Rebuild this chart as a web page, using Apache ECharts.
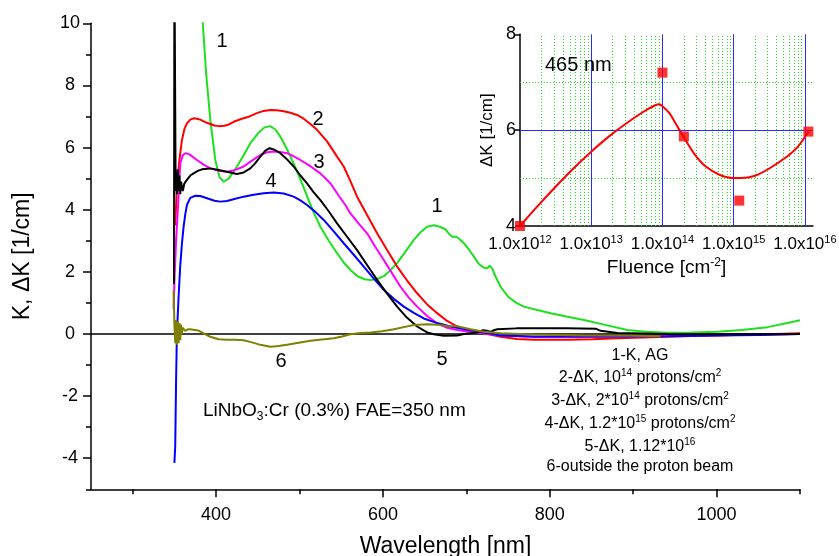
<!DOCTYPE html>
<html>
<head>
<meta charset="utf-8">
<script src="https://cdn.jsdelivr.net/npm/echarts@6/dist/echarts.min.js"></script>
<style>
html,body{margin:0;padding:0;background:#fff;}
#wrap{position:relative;width:839px;height:556px;}
#main,#inset{position:absolute;left:0;top:0;width:839px;height:556px;}
#inset{pointer-events:none;}
</style>
</head>
<body>
<div id="wrap"><div id="main"></div><div id="inset"></div></div>
<script>
// ---------------- DATA ----------------
const majorXTicks = [400, 600, 800, 1000];
const minorXTicks = [300, 500, 700, 900, 1100];
const majorYTicks = [-4, -2, 0, 2, 4, 6, 8, 10];
const minorYTicks = [-5, -3, -1, 1, 3, 5, 7, 9];

// Curve 1: K, as grown (green)
const curve1 = [[380,11.5],[384,10.0],[388,8.4],[393,6.9],[399,5.6],[404,5.05],[409,4.9],[415,5.0],[425,5.39],[433,5.75],[441,6.14],[450,6.45],[458,6.65],[465,6.69],[471,6.58],[477,6.35],[483,6.05],[489,5.72],[496,5.3],[503,4.85],[511,4.3],[518,3.85],[525,3.45],[535,3.0],[545,2.6],[553,2.3],[561,2.06],[570,1.85],[578,1.76],[585,1.74],[593,1.77],[601,1.86],[609,2.05],[617,2.28],[627,2.65],[637,3.03],[646,3.3],[653,3.45],[661,3.5],[668,3.45],[675,3.37],[680,3.2],[683,3.13],[688,3.13],[692,3.05],[697,2.92],[703,2.72],[709,2.49],[715,2.25],[720,2.15],[725,2.11],[728,2.2],[731,2.1],[735,1.85],[741,1.52],[750,1.2],[760,1.0],[769,0.88],[785,0.77],[801,0.67],[820,0.56],[841,0.45],[865,0.3],[893,0.13],[915,0.07],[941,0.04],[970,0.05],[1001,0.07],[1030,0.13],[1061,0.22],[1085,0.35],[1100,0.44]];
// Curve 2: dK, 1e14 (red)
const curve2 = [[351,3.5],[353,4.74],[356,5.6],[359,6.24],[362,6.6],[365,6.78],[369,6.9],[373,6.94],[377,6.93],[381,6.9],[387,6.82],[393,6.76],[398,6.71],[403,6.69],[410,6.7],[415,6.74],[421,6.83],[430,6.92],[439,6.99],[448,7.1],[457,7.18],[465,7.21],[473,7.2],[481,7.17],[489,7.12],[497,7.05],[505,6.93],[513,6.76],[521,6.57],[533,6.2],[545,5.71],[553,5.39],[561,4.92],[569,4.42],[581,3.83],[593,3.24],[605,2.7],[617,2.17],[629,1.72],[641,1.31],[653,0.95],[665,0.67],[677,0.42],[689,0.24],[705,0.09],[721,0.02],[741,-0.09],[761,-0.16],[781,-0.19],[821,-0.19],[851,-0.17],[881,-0.14],[941,-0.09],[981,-0.06],[1021,-0.03],[1060,-0.01],[1100,0.02]];
// Curve 3: dK, 2e14 (magenta)
const curve3 = [[349,0.8],[350,1.7],[352,3.0],[355,4.42],[357,5.49],[360,5.75],[363,5.82],[368,5.78],[372,5.7],[377,5.6],[385,5.45],[393,5.33],[403,5.25],[413,5.22],[423,5.28],[433,5.39],[443,5.58],[453,5.76],[461,5.85],[469,5.87],[477,5.86],[485,5.82],[493,5.72],[501,5.6],[513,5.4],[525,5.17],[537,4.85],[547,4.45],[555,4.15],[561,3.88],[571,3.55],[581,3.24],[591,2.8],[601,2.38],[611,1.95],[621,1.52],[631,1.17],[641,0.88],[653,0.58],[665,0.34],[677,0.2],[689,0.13],[705,0.06],[721,0.02],[741,-0.05],[781,-0.1],[841,-0.1],[901,-0.08],[961,-0.06],[1021,-0.03],[1100,0.0]];
// Curve 4: dK, 1.2e15 (blue)
const curve4 = [[350,-4.15],[351,-3.6],[352,-1.5],[353,0.0],[355,1.2],[357,2.2],[359,2.9],[361,3.45],[363,3.85],[365,4.15],[369,4.38],[375,4.45],[381,4.44],[390,4.36],[398,4.29],[405,4.26],[413,4.28],[423,4.35],[433,4.42],[445,4.48],[457,4.53],[469,4.55],[481,4.52],[493,4.42],[501,4.3],[509,4.15],[519,3.93],[529,3.67],[541,3.3],[553,2.92],[565,2.55],[577,2.17],[589,1.78],[601,1.42],[613,1.13],[625,0.88],[637,0.68],[649,0.5],[665,0.35],[681,0.24],[695,0.17],[709,0.1],[725,0.03],[741,-0.05],[781,-0.08],[821,-0.08],[881,-0.08],[941,-0.07],[1001,-0.05],[1050,-0.03],[1100,0.0]];
// Curve 5: dK, 1.12e16 (black)
const curve5 = [[349.5,1.6],[350,12],[351,12],[351.5,4.6],[352,5.2],[353,4.5],[354,5.3],[355,4.6],[356,5.1],[357,4.5],[358,4.9],[360,4.6],[362,4.85],[365,4.96],[369,5.1],[373,5.17],[378,5.25],[383,5.3],[393,5.33],[403,5.28],[413,5.22],[425,5.15],[433,5.2],[441,5.33],[447,5.5],[453,5.71],[459,5.9],[464,5.98],[470,5.93],[477,5.82],[485,5.62],[493,5.39],[501,5.1],[509,4.85],[517,4.56],[525,4.31],[535,3.95],[545,3.56],[557,3.13],[569,2.7],[581,2.22],[593,1.74],[605,1.3],[617,0.88],[629,0.52],[641,0.24],[653,0.05],[661,-0.01],[673,-0.06],[689,-0.05],[697,0.0],[705,0.02],[713,0.05],[720,0.12],[725,0.1],[729,0.07],[733,0.12],[737,0.15],[760,0.18],[781,0.18],[820,0.18],[855,0.17],[861,0.1],[881,0.03],[941,0.0],[1001,-0.01],[1100,0.0]];
// Curve 6: outside the proton beam (olive)
const curve6 = [[349,1.4],[349.5,0.9],[350,0.3],[351,-0.3],[352,0.45],[353,-0.35],[354,0.4],[355,-0.3],[356,0.35],[357,-0.2],[358,0.3],[359,0.0],[360,0.2],[363,0.1],[366,0.15],[369,0.15],[374,0.13],[379,0.11],[386,0.0],[393,-0.09],[403,-0.17],[413,-0.19],[423,-0.19],[433,-0.2],[443,-0.27],[453,-0.35],[465,-0.41],[475,-0.39],[485,-0.35],[499,-0.28],[513,-0.22],[527,-0.18],[541,-0.14],[551,-0.08],[561,-0.01],[573,0.03],[585,0.05],[599,0.09],[613,0.15],[625,0.22],[637,0.29],[653,0.31],[665,0.3],[677,0.26],[689,0.25],[705,0.15],[721,0.07],[741,0.02],[781,-0.02],[841,-0.05],[900,-0.06],[933,-0.07]];

// Inset: dK at 465 nm vs fluence
const fluence = [1e12, 1e14, 2e14, 1.2e15, 1.12e16];
const deltaK465 = [4.0, 7.2, 5.87, 4.53, 5.97];
const fitLogFluence = [12.0,12.25,12.5,12.75,13.0,13.25,13.5,13.75,13.9,13.95,14.0,14.1,14.2,14.3,14.45,14.6,14.8,15.0,15.1,15.3,15.5,15.75,15.9,16.05];
const fitDeltaK =     [4.0, 4.42, 4.82, 5.2, 5.55, 5.87, 6.15, 6.4, 6.52, 6.54, 6.5, 6.35, 6.1, 5.85, 5.5, 5.25, 5.07, 5.0, 5.0, 5.05, 5.2, 5.45, 5.65, 5.97];
const insetDecades = [1e12, 1e13, 1e14, 1e15, 1e16];

// ---------------- HELPERS ----------------
const FONT = 'Liberation Sans, Arial, Helvetica, sans-serif';
const blackLine = () => ({show: true, onZero: false, lineStyle: {color: '#000', width: 1.5}});
const supRich = (fs, lh) => ({
  n: {fontSize: fs, fontFamily: FONT, color: '#000', lineHeight: lh},
  s: {fontSize: Math.round(fs * 0.65), fontFamily: FONT, color: '#000', verticalAlign: 'top', lineHeight: Math.round(lh * 0.55)},
  b: {fontSize: Math.round(fs * 0.65), fontFamily: FONT, color: '#000', verticalAlign: 'bottom', lineHeight: Math.round(lh * 0.55)}
});
function txt(text, x, y, fs, align) {
  return {type: 'text', x, y, z: 100, silent: true,
    style: {text, fontSize: fs, fontFamily: FONT, fill: '#000', align: align || 'center', verticalAlign: 'middle', rich: supRich(fs, fs + 4)}};
}
function curve(name, data, color, z) {
  return {name, type: 'line', data, xAxisIndex: 0, yAxisIndex: 0, showSymbol: false, symbol: 'none',
    lineStyle: {color, width: 2}, itemStyle: {color}, clip: true, z, animation: false};
}

// ---------------- MAIN CHART ----------------
const mainChart = echarts.init(document.getElementById('main'));
mainChart.setOption({
  animation: false,
  backgroundColor: '#fff',
  grid: {left: 91, top: 23.3, width: 709, height: 466, containLabel: false, outerBoundsMode: 'none'},
  xAxis: [
    {type: 'value', min: 250, max: 1100, position: 'bottom',
     axisLine: blackLine(), axisTick: {customValues: majorXTicks, length: 8, lineStyle: {color: '#000', width: 1.5}},
     axisLabel: {customValues: majorXTicks, fontSize: 18, fontFamily: FONT, color: '#000', margin: 17, formatter: v => String(v)},
     splitLine: {show: false},
     name: 'Wavelength [nm]', nameLocation: 'middle', nameGap: 46,
     nameTextStyle: {fontSize: 23, fontFamily: FONT, color: '#000'}},
    {type: 'value', min: 250, max: 1100, position: 'bottom',
     axisLine: {show: false, onZero: false}, axisTick: {customValues: minorXTicks, length: 5, lineStyle: {color: '#000', width: 1.5}},
     axisLabel: {show: false}, splitLine: {show: false}}
  ],
  yAxis: [
    {type: 'value', min: -5, max: 10, position: 'left',
     axisLine: blackLine(), axisTick: {customValues: majorYTicks, length: 8, lineStyle: {color: '#000', width: 1.5}},
     axisLabel: {customValues: majorYTicks, fontSize: 18, fontFamily: FONT, color: '#000', margin: 21, align: 'center'},
     splitLine: {show: false},
     name: 'K, ΔK [1/cm]', nameLocation: 'middle', nameGap: 57,
     nameTextStyle: {fontSize: 23, fontFamily: FONT, color: '#000'}},
    {type: 'value', min: -5, max: 10, position: 'left',
     axisLine: {show: false, onZero: false}, axisTick: {customValues: minorYTicks, length: 5, lineStyle: {color: '#000', width: 1.5}},
     axisLabel: {show: false}, splitLine: {show: false}}
  ],
  series: [
    Object.assign(curve('zero', [], '#000', 1), {
      markLine: {silent: true, symbol: 'none', z: 1, animation: false, label: {show: false},
        lineStyle: {color: '#000', width: 1.5, type: 'solid'}, data: [{yAxis: 0}]}}),
    curve('1-K, AG', curve1, '#1ee01e', 3),
    curve('2-ΔK, 10^14', curve2, '#ff0000', 3),
    curve('3-ΔK, 2*10^14', curve3, '#ff00ff', 3),
    curve('4-ΔK, 1.2*10^15', curve4, '#0000ff', 3),
    curve('5-ΔK, 1.12*10^16', curve5, '#000000', 4),
    curve('6-outside', curve6, '#808000', 5)
  ],
  graphic: [
    txt('1', 222, 41, 20),
    txt('2', 318, 119, 20),
    txt('3', 319, 162, 20),
    txt('4', 271, 181, 20),
    txt('1', 437, 206, 20),
    txt('5', 442, 359, 20),
    txt('6', 281, 361, 20),
    txt('{n|LiNbO}{b|3}{n|:Cr (0.3%) FAE=350 nm}', 203, 411, 19, 'left'),
    txt('{n|1-K, AG}', 640, 356, 16),
    txt('{n|2-ΔK, 10}{s|14}{n| protons/cm}{s|2}', 640, 378, 16),
    txt('{n|3-ΔK, 2*10}{s|14}{n| protons/cm}{s|2}', 640, 401, 16),
    txt('{n|4-ΔK, 1.2*10}{s|15}{n| protons/cm}{s|2}', 640, 424, 16),
    txt('{n|5-ΔK, 1.12*10}{s|16}', 640, 447, 16),
    txt('{n|6-outside the proton beam}', 640, 467, 16)
  ]
});

// ---------------- INSET CHART ----------------
const insetMinor = [];
for (let d = 12; d < 16; d++) for (let m = 2; m <= 9; m++) insetMinor.push(m * Math.pow(10, d));
const minorGrid = insetMinor.map(v => ({xAxis: v})).concat([{yAxis: 5}, {yAxis: 7}]);
const majorGrid = insetDecades.slice(1).map(v => ({xAxis: v})).concat([{yAxis: 6}]);

const insetChart = echarts.init(document.getElementById('inset'));
insetChart.setOption({
  animation: false,
  backgroundColor: 'transparent',
  grid: {left: 520, top: 34.3, width: 293, height: 191.7, containLabel: false, outerBoundsMode: 'none'},
  xAxis: {type: 'log', min: 1e12, max: 1.3e16, logBase: 10, interval: 1, position: 'bottom',
    axisLine: blackLine(), axisTick: {show: false},
    axisLabel: {margin: 8, fontSize: 17, fontFamily: FONT, color: '#000', showMaxLabel: false,
      formatter: v => '{n|1.0x10}{s|' + Math.round(Math.log10(v)) + '}', rich: supRich(17, 20)},
    splitLine: {show: false}, minorSplitLine: {show: false}, minorTick: {show: false},
    name: '{n|Fluence [cm}{s|-2}{n|]}', nameLocation: 'middle', nameGap: 31,
    nameTextStyle: {fontSize: 19, fontFamily: FONT, color: '#000', rich: supRich(19, 22)}},
  yAxis: {type: 'value', min: 4, max: 8, interval: 2, position: 'left',
    axisLine: blackLine(), axisTick: {show: true, length: 5, lineStyle: {color: '#000', width: 1.5}},
    axisLabel: {fontSize: 18, fontFamily: FONT, color: '#000', margin: 4},
    splitLine: {show: false},
    name: 'ΔK [1/cm]', nameLocation: 'middle', nameGap: 24,
    nameTextStyle: {fontSize: 17, fontFamily: FONT, color: '#000'}},
  series: [
    {name: 'minor grid', type: 'line', data: [], showSymbol: false, z: 1, animation: false,
     markLine: {silent: true, symbol: 'none', z: 1, animation: false, label: {show: false},
       lineStyle: {color: '#22dd22', type: [1, 2], width: 1}, data: minorGrid}},
    {name: 'major grid', type: 'line', data: [], showSymbol: false, z: 2, animation: false,
     markLine: {silent: true, symbol: 'none', z: 2, animation: false, label: {show: false},
       lineStyle: {color: '#2a2aff', type: 'solid', width: 1}, data: majorGrid}},
    {name: 'fit', type: 'line', showSymbol: false, symbol: 'none', smooth: 0.3,
     data: fitLogFluence.map((lf, i) => [Math.pow(10, lf), fitDeltaK[i]]),
     lineStyle: {color: '#ff0000', width: 2}, z: 4, animation: false},
    {name: 'points', type: 'scatter', symbol: 'rect', symbolSize: 10,
     data: fluence.map((f, i) => [f, deltaK465[i]]), itemStyle: {color: '#ff0000'}, z: 6, animation: false}
  ],
  graphic: [txt('465 nm', 545, 65, 20, 'left')]
});
</script>
</body>
</html>
